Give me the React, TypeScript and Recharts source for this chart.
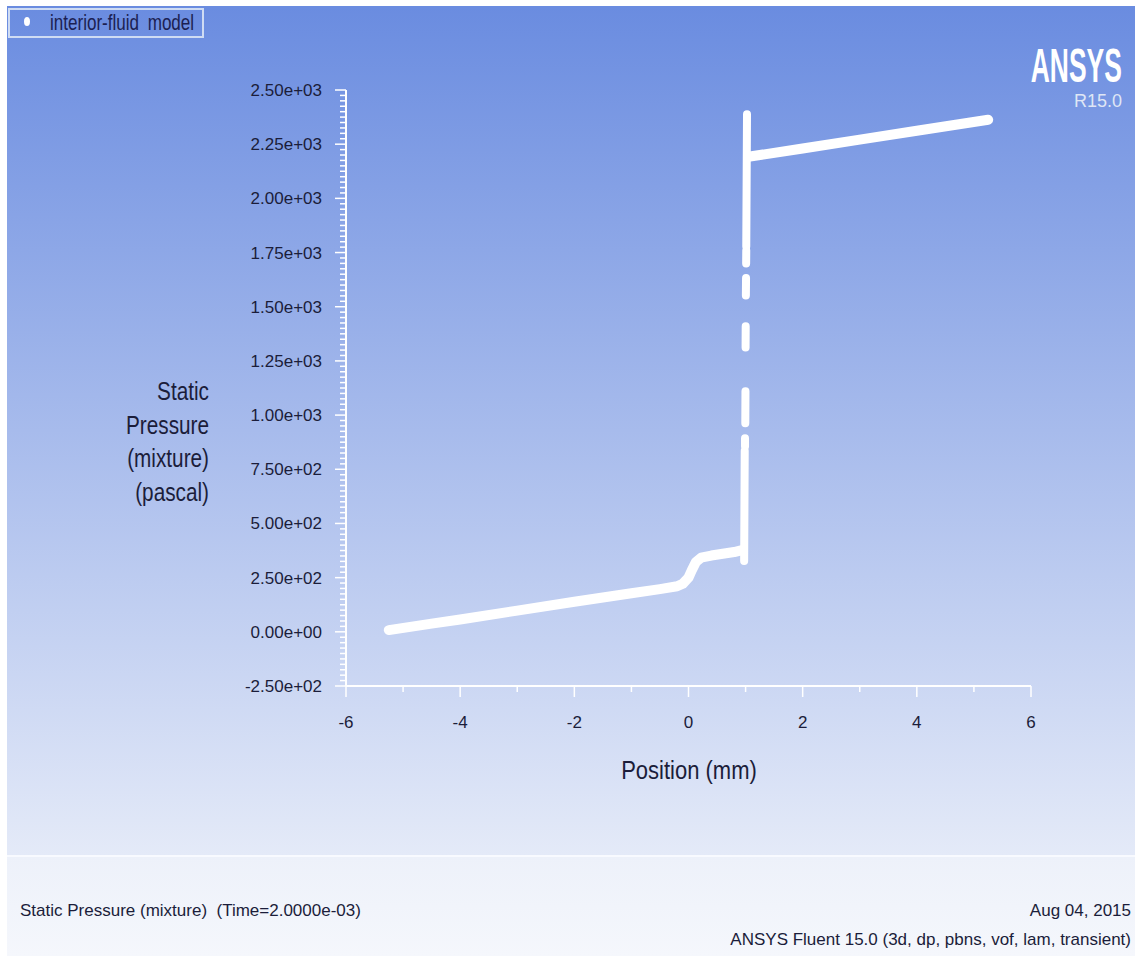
import { Line, LineChart, XAxis, YAxis } from 'recharts';

// axis ticks
const yMajorTicks = [-250, 0, 250, 500, 750, 1000, 1250, 1500, 1750, 2000, 2250, 2500];
const yMajorLabels = ['-2.50e+02', '0.00e+00', '2.50e+02', '5.00e+02', '7.50e+02', '1.00e+03', '1.25e+03', '1.50e+03', '1.75e+03', '2.00e+03', '2.25e+03', '2.50e+03'];
const xMajorTicks = [-6, -4, -2, 0, 2, 4, 6];
const xMajorLabels = ['-6', '-4', '-2', '0', '2', '4', '6'];

// minor ticks: 10 subdivisions on y, 2 on x
const yTicks: number[] = [];
for (let i = 0; i < yMajorTicks.length - 1; i++) {
  for (let k = 0; k < 10; k++) yTicks.push(yMajorTicks[i] + k * 25);
}
yTicks.push(2500);
const xTicks = [-6, -5, -4, -3, -2, -1, 0, 1, 2, 3, 4, 5, 6];

// static pressure (pascal) vs position (mm)
const lowerBranch = [
  { x: -5.25, y: 8 }, { x: -4.5, y: 38 }, { x: -4, y: 57 }, { x: -3, y: 98 },
  { x: -2, y: 139 }, { x: -1, y: 178 }, { x: -0.5, y: 197 }, { x: -0.2, y: 210 },
  { x: -0.1, y: 222 }, { x: 0, y: 250 }, { x: 0.06, y: 285 }, { x: 0.13, y: 322 },
  { x: 0.22, y: 342 }, { x: 0.4, y: 352 }, { x: 0.6, y: 360 }, { x: 0.8, y: 368 },
  { x: 0.92, y: 376 },
];

const jumpSegments = [
  { x: 0.975, y: 327 }, { x: 0.985, y: 835 }, { x: 0.985, y: null },
  { x: 0.99, y: 855 }, { x: 0.99, y: 893 }, { x: 0.99, y: null },
  { x: 0.995, y: 962 }, { x: 0.998, y: 1110 }, { x: 0.998, y: null },
  { x: 1.0, y: 1312 }, { x: 1.002, y: 1410 }, { x: 1.002, y: null },
  { x: 1.005, y: 1552 }, { x: 1.008, y: 1632 }, { x: 1.008, y: null },
  { x: 1.01, y: 1700 }, { x: 1.012, y: 1760 }, { x: 1.012, y: null },
  { x: 1.012, y: 1778 }, { x: 1.025, y: 2388 },
];

const upperBranch = [
  { x: 1.05, y: 2192 }, { x: 2, y: 2230 }, { x: 3, y: 2271 }, { x: 4, y: 2312 }, { x: 5.25, y: 2363 },
];

const FONT = '"Liberation Sans", Arial, sans-serif';
const TEXT = '#1b1d3a';

function YTick(props: any) {
  const { x, y, payload } = props;
  const idx = yMajorTicks.indexOf(payload.value);
  const major = idx >= 0;
  return (
    <g>
      <line x1={x} x2={x - (major ? 11 : 6)} y1={y} y2={y} stroke="#ffffff" strokeWidth={1.5} />
      {major && (
        <text x={x - 24} y={y} dy={6} textAnchor="end" fontSize={17} fontFamily={FONT} fill={TEXT}>
          {yMajorLabels[idx]}
        </text>
      )}
    </g>
  );
}

function XTick(props: any) {
  const { x, y, payload } = props;
  const idx = xMajorTicks.indexOf(payload.value);
  const major = idx >= 0;
  return (
    <g>
      <line x1={x} x2={x} y1={y} y2={y + (major ? 11 : 6)} stroke="#ffffff" strokeWidth={1.5} />
      {major && (
        <text x={x} y={y + 36} dy={6} textAnchor="middle" fontSize={17} fontFamily={FONT} fill={TEXT}>
          {xMajorLabels[idx]}
        </text>
      )}
    </g>
  );
}

export default function App() {
  return (
    <div style={{ position: 'relative', width: 1139, height: 956, background: '#ffffff', fontFamily: FONT, overflow: 'hidden' }}>
      <style>{'body{margin:0}'}</style>
      {/* graphics window */}
      <div style={{ position: 'absolute', left: 7, top: 6, width: 1128, height: 849, background: 'linear-gradient(to bottom, #6a8ce0 0%, #e4eaf8 100%)' }} />
      <div style={{ position: 'absolute', left: 7, top: 855, width: 1128, height: 2, background: '#f8faff' }} />
      <div style={{ position: 'absolute', left: 7, top: 857, width: 1128, height: 99, background: 'linear-gradient(to bottom, #edf1fa 0%, #f5f7fc 100%)' }} />

      {/* legend */}
      <div style={{ position: 'absolute', left: 8, top: 8, width: 192, height: 26, border: '2px solid #cfdcf3' }} />
      <div style={{ position: 'absolute', left: 24, top: 17, width: 6, height: 9, borderRadius: '50%', background: '#ffffff' }} />
      <div style={{ position: 'absolute', left: 50, top: 10, fontSize: 22, lineHeight: '26px', color: '#1c1f52', whiteSpace: 'nowrap', wordSpacing: 5, transform: 'scaleX(0.775)', transformOrigin: 'left' }}>
        interior-fluid model
      </div>

      {/* logo */}
      <div style={{ position: 'absolute', right: 17, top: 37, fontSize: 49, fontWeight: 'bold', color: '#ffffff', lineHeight: '56px', transform: 'scaleX(0.54)', transformOrigin: 'right' }}>
        ANSYS
      </div>
      <div style={{ position: 'absolute', right: 17, top: 91, fontSize: 18, color: '#dfe6f5', lineHeight: '20px' }}>R15.0</div>

      {/* y axis title */}
      <div style={{ position: 'absolute', left: 0, width: 209, top: 375, fontSize: 25, lineHeight: '33.5px', color: TEXT, textAlign: 'right', transform: 'scaleX(0.83)', transformOrigin: 'right' }}>
        Static<br />Pressure<br />(mixture)<br />(pascal)
      </div>

      {/* x axis title */}
      <div style={{ position: 'absolute', left: 489, width: 400, top: 754, fontSize: 25, lineHeight: '32px', color: TEXT, textAlign: 'center', transform: 'scaleX(0.88)' }}>
        Position (mm)
      </div>

      <div style={{ position: 'absolute', left: 0, top: 0 }}>
        <LineChart width={1139} height={956} margin={{ top: 90, right: 108, bottom: 240, left: 286 }}>
          <XAxis
            type="number"
            dataKey="x"
            domain={[-6, 6]}
            ticks={xTicks}
            interval={0}
            height={30}
            tickSize={0}
            tickMargin={0}
            tickLine={false}
            axisLine={{ stroke: '#ffffff', strokeWidth: 2 }}
            tick={<XTick />}
            allowDuplicatedCategory={false}
          />
          <YAxis
            type="number"
            dataKey="y"
            domain={[-250, 2500]}
            ticks={yTicks}
            interval={0}
            width={60}
            tickSize={0}
            tickMargin={0}
            tickLine={false}
            axisLine={{ stroke: '#ffffff', strokeWidth: 2 }}
            tick={<YTick />}
          />
          <Line data={lowerBranch} dataKey="y" type="linear" stroke="#ffffff" strokeWidth={10} strokeLinecap="round" strokeLinejoin="round" dot={false} activeDot={false} isAnimationActive={false} />
          <Line data={jumpSegments} dataKey="y" type="linear" stroke="#ffffff" strokeWidth={8} strokeLinecap="round" strokeLinejoin="round" dot={false} activeDot={false} connectNulls={false} isAnimationActive={false} />
          <Line data={upperBranch} dataKey="y" type="linear" stroke="#ffffff" strokeWidth={10} strokeLinecap="round" strokeLinejoin="round" dot={false} activeDot={false} isAnimationActive={false} />
        </LineChart>
      </div>

      {/* footer */}
      <div style={{ position: 'absolute', left: 20, top: 900, fontSize: 17, lineHeight: '22px', color: TEXT, whiteSpace: 'pre' }}>
        {'Static Pressure (mixture)  (Time=2.0000e-03)'}
      </div>
      <div style={{ position: 'absolute', right: 8, top: 900, fontSize: 17, lineHeight: '22px', color: TEXT, textAlign: 'right' }}>
        Aug 04, 2015
      </div>
      <div style={{ position: 'absolute', right: 8, top: 929, fontSize: 17, lineHeight: '22px', color: TEXT, textAlign: 'right', whiteSpace: 'nowrap' }}>
        ANSYS Fluent 15.0 (3d, dp, pbns, vof, lam, transient)
      </div>
    </div>
  );
}
